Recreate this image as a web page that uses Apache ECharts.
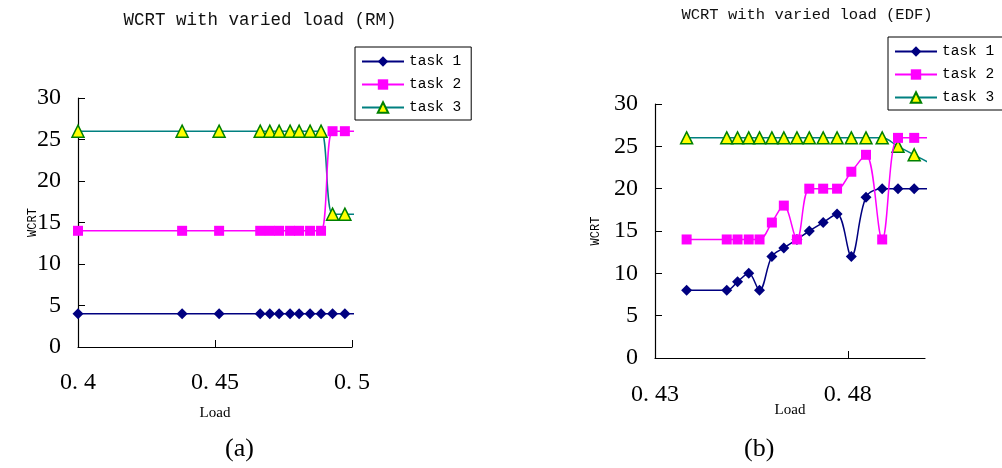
<!DOCTYPE html>
<html>
<head>
<meta charset="utf-8">
<script src="https://cdn.jsdelivr.net/npm/echarts@6/dist/echarts.min.js"></script>
<style>html,body{margin:0;padding:0;background:#fff}#c{width:1002px;height:468px}</style>
</head>
<body>
<div id="c"></div>
<script>
// ---------- data ----------
const seriesNames = ['task 1', 'task 2', 'task 3'];

// (a) RM
const loadRM = [0.400, 0.438, 0.4515, 0.4665, 0.4700, 0.4734, 0.4774, 0.4807, 0.4847, 0.4887, 0.4929, 0.4974];
const rmTask1 = [4, 4, 4, 4, 4, 4, 4, 4, 4, 4, 4, 4];
const rmTask2 = [14, 14, 14, 14, 14, 14, 14, 14, 14, 14, 26, 26];
const rmTask3 = [26, 26, 26, 26, 26, 26, 26, 26, 26, 26, 16, 16];
// where the drawn lines end (no marker)
const rmTailLoad = 0.5026;
const rmTail = [4, 26, 16];

// (b) EDF
const loadEDF = [0.4382, 0.4486, 0.4514, 0.4543, 0.4571, 0.4603, 0.4634, 0.4668, 0.4700, 0.4736, 0.4772, 0.4809, 0.4847, 0.4889, 0.4930, 0.4972];
const edfTask1 = [8, 8, 9, 10, 8, 12, 13, 14, 15, 16, 17, 12, 19, 20, 20, 20];
const edfTask2 = [14, 14, 14, 14, 14, 16, 18, 14, 20, 20, 20, 22, 24, 14, 26, 26];
const edfTask3 = [26, 26, 26, 26, 26, 26, 26, 26, 26, 26, 26, 26, 26, 26, 25, 24];
const edfTailLoad = 0.5013;
const edfTail = [20, 26, 23];

// tick labels
const yTicks = [0, 5, 10, 15, 20, 25, 30];
const yTickLabels = ['0', '5', '10', '15', '20', '25', '30'];
const xTicksRM = [0.4, 0.45, 0.5];
const xTickLabelsRM = ['0. 4', '0. 45', '0. 5'];
const xTicksEDF = [0.43, 0.48];
const xTickLabelsEDF = ['0. 43', '0. 48'];

const titles = ['WCRT with varied load (RM)', 'WCRT with varied load (EDF)'];
const panelLabels = ['(a)', '(b)'];
const xName = 'Load';
const yName = 'WCRT';

// ---------- styling ----------
const colors = ['#000080', '#FF00FF', '#008080'];
const symbols = ['diamond', 'rect', 'triangle'];
const symbolSizes = [11, 10, 12];
const serif = 'Liberation Serif';
const mono = 'Liberation Mono';

function pairs(xs, ys, tailX, tailY) {
  const d = xs.map((x, i) => [x, ys[i]]);
  d.push({ value: [tailX, tailY], symbol: 'none' });
  return d;
}

function labelFor(ticks, labels) {
  return v => {
    for (let i = 0; i < ticks.length; i++) if (Math.abs(ticks[i] - v) < 1e-6) return labels[i];
    return '';
  };
}

function makeSeries(idx, gridIdx, data) {
  const s = {
    name: seriesNames[idx],
    type: 'line',
    xAxisIndex: gridIdx,
    yAxisIndex: gridIdx,
    data: data,
    smooth: 0.35,
    clip: false,
    symbol: symbols[idx],
    symbolSize: symbolSizes[idx],
    lineStyle: { color: colors[idx], width: 1.5 },
    itemStyle: { color: colors[idx] },
    emphasis: { disabled: true },
    animation: false,
    z: 2 + idx
  };
  if (idx === 2) {
    s.itemStyle = { color: '#FFFF00', borderColor: '#008000', borderWidth: 1.5 };
  }
  if (idx === 1) s.z = 5;
  return s;
}

function xAxisCfg(gridIdx, min, max, ticks, labels, margin, nameGap) {
  return {
    gridIndex: gridIdx, type: 'value', min: min, max: max,
    axisLine: { show: true, lineStyle: { color: '#000', width: 1.2 } },
    axisTick: { show: true, inside: true, length: 7, customValues: ticks, lineStyle: { color: '#000' } },
    axisLabel: { customValues: ticks, formatter: labelFor(ticks, labels), fontFamily: serif, fontSize: 24, color: '#000', margin: margin },
    splitLine: { show: false },
    name: xName, nameLocation: 'middle', nameGap: nameGap, nameMoveOverlap: false,
    nameTextStyle: { fontFamily: serif, fontSize: 15, color: '#000' }
  };
}

function yAxisCfg(gridIdx, nameGap) {
  return {
    gridIndex: gridIdx, type: 'value', min: 0, max: 30, interval: 5,
    axisLine: { show: true, lineStyle: { color: '#000', width: 1.2 } },
    axisTick: { show: true, inside: true, length: 7, lineStyle: { color: '#000' } },
    axisLabel: { formatter: labelFor(yTicks, yTickLabels), fontFamily: serif, fontSize: 24, color: '#000', margin: 17 },
    splitLine: { show: false },
    name: yName, nameLocation: 'middle', nameGap: nameGap, nameRotate: 90, nameMoveOverlap: false,
    nameTextStyle: { fontFamily: mono, fontSize: 12, color: '#000' }
  };
}

function legendCfg(left, top) {
  return {
    data: seriesNames.map(n => ({ name: n })),
    orient: 'vertical', left: left, top: top,
    itemWidth: 42, itemHeight: 13, itemGap: 8,
    borderColor: '#000', borderWidth: 1, padding: [7, 10, 5, 6],
    backgroundColor: '#fff',
    textStyle: { fontFamily: mono, fontSize: 14.5, color: '#000' },
    selectedMode: false
  };
}

const chart = echarts.init(document.getElementById('c'), null, { renderer: 'canvas' });

const option = {
  backgroundColor: '#fff',
  animation: false,
  title: [
    { text: titles[0], left: 255, textAlign: 'center', top: 6,
      textStyle: { fontFamily: mono, fontSize: 17.5, fontWeight: 'normal', color: '#111' } },
    { text: titles[1], left: 802, textAlign: 'center', top: 2,
      textStyle: { fontFamily: mono, fontSize: 15.5, fontWeight: 'normal', color: '#111' } }
  ],
  legend: [legendCfg(355, 47), legendCfg(888, 37)],
  grid: [
    { left: 78, top: 98, width: 274, height: 249, outerBoundsMode: 'none', containLabel: false },
    { left: 655, top: 104, width: 270, height: 254, outerBoundsMode: 'none', containLabel: false }
  ],
  xAxis: [
    xAxisCfg(0, 0.4, 0.5, xTicksRM, xTickLabelsRM, 24, 59),
    xAxisCfg(1, 0.43, 0.5, xTicksEDF, xTickLabelsEDF, 25, 45)
  ],
  yAxis: [yAxisCfg(0, 39), yAxisCfg(1, 53)],
  graphic: [
    { type: 'text', left: 225, top: 436, style: { text: panelLabels[0], font: '26px "Liberation Serif"', fill: '#000' } },
    { type: 'text', left: 744, top: 436, style: { text: panelLabels[1], font: '26px "Liberation Serif"', fill: '#000' } }
  ],
  series: [
    makeSeries(0, 0, pairs(loadRM, rmTask1, rmTailLoad, rmTail[0])),
    makeSeries(1, 0, pairs(loadRM, rmTask2, rmTailLoad, rmTail[1])),
    makeSeries(2, 0, pairs(loadRM, rmTask3, rmTailLoad, rmTail[2])),
    makeSeries(0, 1, pairs(loadEDF, edfTask1, edfTailLoad, edfTail[0])),
    makeSeries(1, 1, pairs(loadEDF, edfTask2, edfTailLoad, edfTail[1])),
    makeSeries(2, 1, pairs(loadEDF, edfTask3, edfTailLoad, edfTail[2]))
  ]
};
chart.setOption(option);
</script>
</body>
</html>
